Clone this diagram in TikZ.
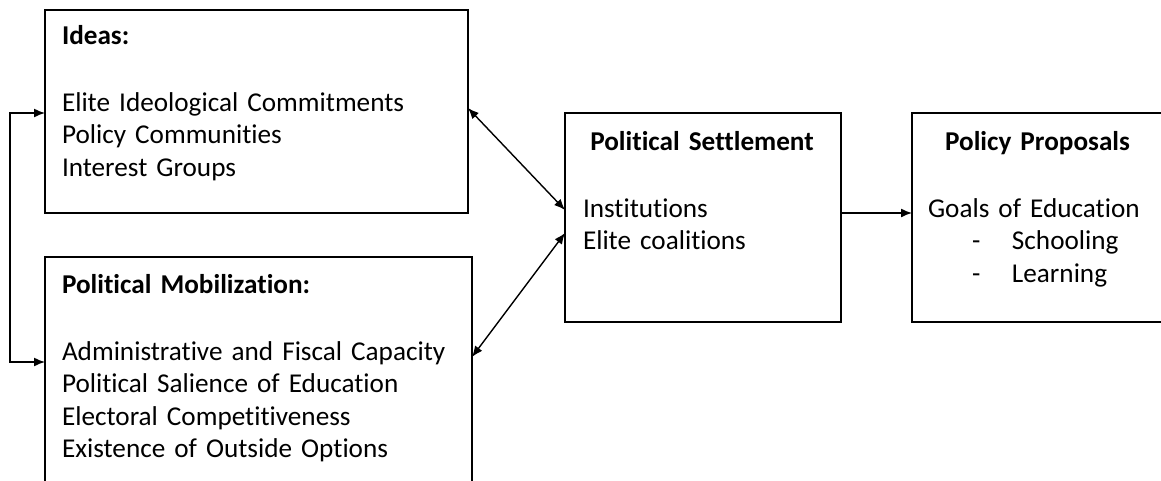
\documentclass[tikz,border=0pt]{standalone}
\usepackage{fontspec}
\setmainfont{Carlito}[Ligatures=NoCommon]
\usetikzlibrary{positioning,arrows.meta}

\newcommand{\boxhead}[2]{\makebox[#1][c]{\textbf{#2}}}

\begin{document}
\begin{tikzpicture}[x=1pt, y=-1pt,
    block/.style={rectangle, draw, line width=1.6pt, outer sep=0pt, inner ysep=0pt, align=left, anchor=north west,
        font=\fontsize{27.2}{32.5}\selectfont},
    arrow/.style={-{Latex[length=11pt,width=9pt]}, line width=1.4pt},
    twoway/.style={{Latex[length=11pt,width=9pt]}-{Latex[length=11pt,width=9pt]}, line width=1.4pt}]

    \useasboundingbox (0,0) rectangle (1161,480);
    \clip (0,0) rectangle (1161,480);

    % Left column
    \node[block, inner xsep=17pt, text width=389pt, text height=34pt, text depth=169pt] (ideas) at (45,10)
        {\textbf{Ideas:}\\[34.5pt]
         Elite Ideological Commitments\\
         Policy Communities\\
         Interest Groups};
    \node[block, inner xsep=17pt, text width=393pt, text height=36pt, text depth=192pt,
        below=44pt of ideas.south west, anchor=north west] (mobil)
        {\textbf{Political Mobilization:}\\[34.5pt]
         Administrative and Fiscal Capacity\\
         Political Salience of Education\\
         Electoral Competitiveness\\
         Existence of Outside Options};

    % Settlement and proposals
    \node[block, inner xsep=18pt, text width=240pt, text height=37pt, text depth=172pt] (settle) at (565,113)
        {\boxhead{238pt}{Political Settlement}\\[34.5pt]
         Institutions\\
         Elite coalitions};
    \node[block, inner xsep=16pt, text width=231pt, text height=37pt, text depth=172pt,
        right=71pt of settle, anchor=west] (policy)
        {\boxhead{219pt}{Policy Proposals}\\[34.5pt]
         Goals of Education\\
         \hspace*{44pt}\makebox[40pt][l]{-}Schooling\\
         \hspace*{44pt}\makebox[40pt][l]{-}Learning};

    % Connections
    \draw[twoway] ([yshift=3.5pt]ideas.east) -- ([yshift=7.5pt]settle.west);
    \draw[twoway] ([yshift=14pt]mobil.east) -- ([yshift=-15.5pt]settle.west);
    \draw[arrow] ([yshift=4.5pt]settle.east) -- ([yshift=4.5pt]policy.west);
    \draw[twoway] ([yshift=-1.5pt]ideas.west) -- ++(-35,0) |- ([yshift=9pt]mobil.west);
\end{tikzpicture}
\end{document}
